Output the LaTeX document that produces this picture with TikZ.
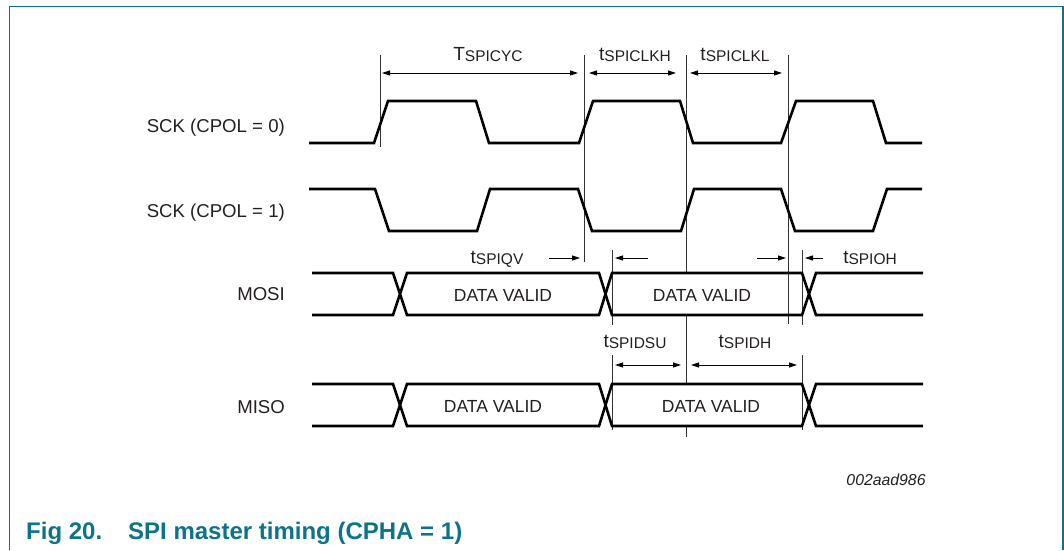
\documentclass[tikz,border=0pt]{standalone}
\usepackage{fontspec}
\setmainfont{Liberation Sans}
\usetikzlibrary{arrows.meta}
\definecolor{nxpteal}{HTML}{0C7389}
\definecolor{txt}{HTML}{231F20}
\newcommand{\sz}[1]{\fontsize{#1}{#1}\selectfont}
\newcommand{\tsub}[2]{#1{\sz{15.5}\raisebox{-1.5pt}{#2}}}
\tikzset{
  sig/.style={line width=2.6pt, line join=miter, black},
  guide/.style={line width=0.8pt, black!80},
  dim/.style={line width=0.8pt, black, {Triangle[length=8pt,width=5pt]}-{Triangle[length=8pt,width=5pt]}},
  dimr/.style={line width=0.8pt, black, -{Triangle[length=8pt,width=5pt]}},
  lbl/.style={inner sep=0pt, text=txt, font=\sz{18.6}},
  sublbl/.style={inner sep=0pt, text=txt, font=\sz{19}, anchor=base},
  dv/.style={inner sep=0pt, text=txt, font=\sz{17.5}}
}
\begin{document}
\begin{tikzpicture}[x=1pt,y=-1pt]
\useasboundingbox (0,0) rectangle (1064,550);
% frame
\draw[nxpteal, line width=1.6pt] (9.5,550) -- (9.5,6.5) -- (1063,6.5) -- (1063,550);

% signal labels
\node[lbl, anchor=east] (lsck0) at (285,128) {SCK (CPOL = 0)};
\node[lbl, anchor=east] (lsck1) at (285,213) {SCK (CPOL = 1)};
\node[lbl, anchor=east] (lmosi) at (285,294) {MOSI};
\node[lbl, anchor=east] (lmiso) at (285,407) {MISO};

% guide lines
\coordinate (g1t) at (380,55);  \coordinate (g1b) at (380,147);
\coordinate (g2t) at (584,55);  \coordinate (g2b) at (584,262);
\coordinate (g3t) at (686,55);  \coordinate (g3b) at (686,273);
\coordinate (g3c) at (686,315); \coordinate (g3d) at (686,384);
\coordinate (g3e) at (686,426); \coordinate (g3f) at (686,437);
\coordinate (g4t) at (788,55);  \coordinate (g4b) at (788,324);
\coordinate (g5t) at (612,250); \coordinate (g5b) at (612,325);
\coordinate (g6t) at (802,250); \coordinate (g6b) at (802,325);
\coordinate (g7t) at (612,355); \coordinate (g7b) at (612,430);
\coordinate (g8t) at (802,355); \coordinate (g8b) at (802,430);
\foreach \g in {1,...,8} \draw[guide] (g\g t) -- (g\g b);
\draw[guide] (g3c) -- (g3d);
\draw[guide] (g3e) -- (g3f);

% SCK CPOL=0
\draw[sig] (309,143) -- (374,143) -- (388,101) -- (476,101) -- (489,143) -- (579,143) -- (593,101) -- (680,101) -- (693,143) -- (781,143) -- (796,101) -- (873,101) -- (886,143) -- (922,143);
% SCK CPOL=1
\draw[sig] (309,189) -- (375,189) -- (389,231) -- (477,231) -- (490,189) -- (578,189) -- (592,231) -- (681,231) -- (694,189) -- (781,189) -- (795,231) -- (873,231) -- (887,189) -- (922,189);

% MOSI
\draw[sig] (312,273) -- (393,273) -- (407,315) -- (599,315) -- (612,273) -- (802,273) -- (816,315) -- (923,315);
\draw[sig] (312,315) -- (393,315) -- (407,273) -- (599,273) -- (612,315) -- (802,315) -- (816,273) -- (923,273);
% MISO
\draw[sig] (312,384) -- (393,384) -- (407,426) -- (599,426) -- (612,384) -- (802,384) -- (816,426) -- (923,426);
\draw[sig] (312,426) -- (393,426) -- (407,384) -- (599,384) -- (612,426) -- (802,426) -- (816,384) -- (923,384);

\node[dv] (dv1) at (503,295) {DATA VALID};
\node[dv] (dv2) at (702,295) {DATA VALID};
\node[dv] (dv3) at (493,406) {DATA VALID};
\node[dv] (dv4) at (711,406) {DATA VALID};

% top dimensions
\coordinate (a1) at (382,73); \coordinate (a2) at (578,73);
\coordinate (b1) at (589,73); \coordinate (b2) at (676,73);
\coordinate (c1) at (690,73); \coordinate (c2) at (782,73);
\draw[dim] (a1) -- (a2);
\draw[dim] (b1) -- (b2);
\draw[dim] (c1) -- (c2);
\node[sublbl] (tcyc) at (488,60) {\tsub{T}{SPICYC}};
\node[sublbl] (tclkh) at (635,60) {\tsub{t}{SPICLKH}};
\node[sublbl] (tclkl) at (735,60) {\tsub{t}{SPICLKL}};

% MOSI timing
\coordinate (q1) at (549,258); \coordinate (q2) at (580,258);
\coordinate (q3) at (648,258); \coordinate (q4) at (615,258);
\coordinate (h1) at (757,258); \coordinate (h2) at (786,258);
\coordinate (h3) at (823,258); \coordinate (h4) at (805,258);
\draw[dimr] (q1) -- (q2);
\draw[dimr] (q3) -- (q4);
\draw[dimr] (h1) -- (h2);
\draw[dimr] (h3) -- (h4);
\node[sublbl] (tqv) at (497,263) {\tsub{t}{SPIQV}};
\node[sublbl] (toh) at (870,263) {\tsub{t}{SPIOH}};

% MISO timing
\coordinate (s1) at (615,365); \coordinate (s2) at (681,365);
\coordinate (d1) at (691,365); \coordinate (d2) at (797,365);
\draw[dim] (s1) -- (s2);
\draw[dim] (d1) -- (d2);
\node[sublbl] (tdsu) at (635,347) {\tsub{t}{SPIDSU}};
\node[sublbl] (tdh) at (745,347) {\tsub{t}{SPIDH}};

% id
\node[inner sep=0pt, text=txt, font=\sz{15.8}\itshape] (code) at (886,480) {002aad986};

% caption
\node[inner sep=0pt, anchor=base west, text=nxpteal, font=\sz{24}\bfseries] (fig) at (26,539) {Fig 20.};
\node[inner sep=0pt, anchor=base west, text=nxpteal, font=\sz{24}\bfseries] (cap) at (128,539) {SPI master timing (CPHA = 1)};
\end{tikzpicture}
\end{document}
